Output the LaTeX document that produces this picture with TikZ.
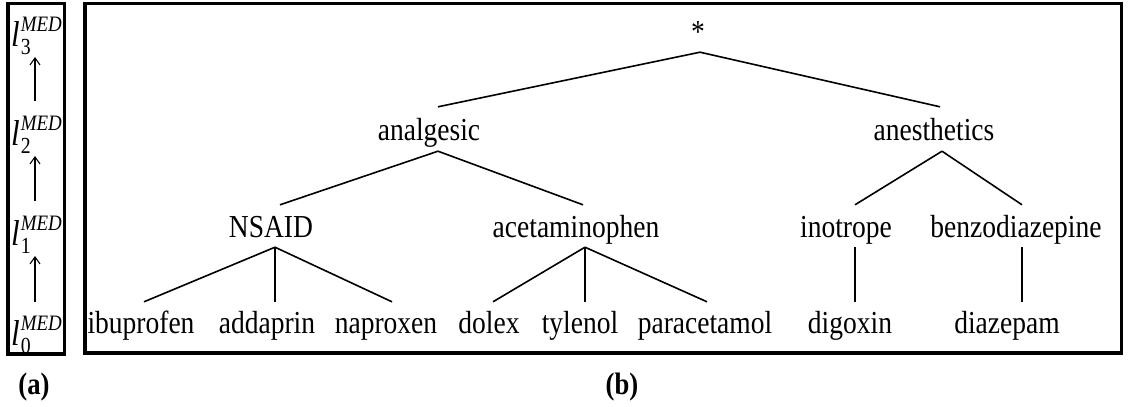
\documentclass[tikz,border=0pt]{standalone}
\usepackage{fontspec}
\setmainfont{Liberation Serif}[FakeStretch=0.86]
\usetikzlibrary{arrows.meta}
\tikzset{
  lbl/.style={font=\fontsize{32}{38}\selectfont, inner sep=0pt, anchor=base, text height=22pt, text depth=7pt},
  lev/.style={inner sep=0pt, anchor=base west},
  captext/.style={font=\fontsize{31}{36}\selectfont\bfseries, inner sep=0pt, anchor=base},
  frame/.style={line width=3.2pt},
  edge/.style={line width=1.6pt},
  uparrow/.style={line width=1.1pt, -{Straight Barb[length=7pt,width=10pt,line width=1.1pt]}}
}
\newcommand{\lev}[1]{{\fontsize{36}{40}\selectfont\itshape l}\kern1pt\rlap{\raisebox{-8pt}{\fontsize{23}{25}\selectfont #1}}\raisebox{15pt}{\fontsize{22}{24}\selectfont\itshape MED}}
\begin{document}
\begin{tikzpicture}[x=1pt,y=-1pt]
\useasboundingbox (0,0) rectangle (1128,407);
% frames
\draw[frame] (8,3.5) rectangle (64.5,354);
\draw[frame] (85,3.5) rectangle (1121.5,353);
% level labels (a)
\node[lev] (l3) at (11,46) {\lev{3}};
\node[lev] (l2) at (11,145) {\lev{2}};
\node[lev] (l1) at (11,245) {\lev{1}};
\node[lev] (l0) at (11,345) {\lev{0}};
\coordinate (a0s) at (35,302); \coordinate (a0e) at (35,256);
\coordinate (a1s) at (35,201); \coordinate (a1e) at (35,156);
\coordinate (a2s) at (35,101); \coordinate (a2e) at (35,57);
\draw[uparrow] (a0s) -- (a0e);
\draw[uparrow] (a1s) -- (a1e);
\draw[uparrow] (a2s) -- (a2e);
% tree (b)
\node[lbl] (root) at (698,42) {*};
\node[lbl] (anal) at (429,140) {analgesic};
\node[lbl] (anes) at (934,140) {anesthetics};
\node[lbl] (nsaid) at (271,237) {NSAID};
\node[lbl] (acet) at (576,237) {acetaminophen};
\node[lbl] (ino) at (846,237) {inotrope};
\node[lbl] (benz) at (1016,237) {benzodiazepine};
\node[lbl] (ibu) at (141,333) {ibuprofen};
\node[lbl] (adda) at (267,333) {addaprin};
\node[lbl] (napr) at (386,333) {naproxen};
\node[lbl] (dolex) at (489,333) {dolex};
\node[lbl] (tyl) at (580,333) {tylenol};
\node[lbl] (para) at (705,333) {paracetamol};
\node[lbl] (digo) at (850,333) {digoxin};
\node[lbl] (diaz) at (1007,333) {diazepam};
% edges
\draw[edge] ([xshift=2pt,yshift=-3pt]root.south) -- ([xshift=9pt,yshift=11pt]anal.north);
\draw[edge] ([xshift=2pt,yshift=-3pt]root.south) -- ([xshift=6pt,yshift=11pt]anes.north);
\draw[edge] ([xshift=9pt,yshift=-4pt]anal.south) -- ([xshift=9pt,yshift=10pt]nsaid.north);
\draw[edge] ([xshift=9pt,yshift=-4pt]anal.south) -- ([xshift=7pt,yshift=10pt]acet.north);
\draw[edge] ([xshift=8pt,yshift=-4pt]anes.south) -- ([xshift=9pt,yshift=10pt]ino.north);
\draw[edge] ([xshift=8pt,yshift=-4pt]anes.south) -- ([xshift=6pt,yshift=10pt]benz.north);
\draw[edge] ([xshift=4pt,yshift=-3pt]nsaid.south) -- ([xshift=3pt,yshift=9pt]ibu.north);
\draw[edge] ([xshift=4pt,yshift=-3pt]nsaid.south) -- ([xshift=8pt,yshift=9pt]adda.north);
\draw[edge] ([xshift=4pt,yshift=-3pt]nsaid.south) -- ([xshift=6pt,yshift=9pt]napr.north);
\draw[edge] ([xshift=9pt,yshift=-3pt]acet.south) -- ([xshift=4pt,yshift=9pt]dolex.north);
\draw[edge] ([xshift=9pt,yshift=-3pt]acet.south) -- ([xshift=5pt,yshift=9pt]tyl.north);
\draw[edge] ([xshift=9pt,yshift=-3pt]acet.south) -- ([xshift=2pt,yshift=9pt]para.north);
\draw[edge] ([xshift=9pt,yshift=-3pt]ino.south) -- ([xshift=5pt,yshift=9pt]digo.north);
\draw[edge] ([xshift=6pt,yshift=-3pt]benz.south) -- ([xshift=15pt,yshift=9pt]diaz.north);
% captions
\node[captext] (capa) at (34,394) {(a)};
\node[captext] (capb) at (622,394) {(b)};
\end{tikzpicture}
\end{document}
